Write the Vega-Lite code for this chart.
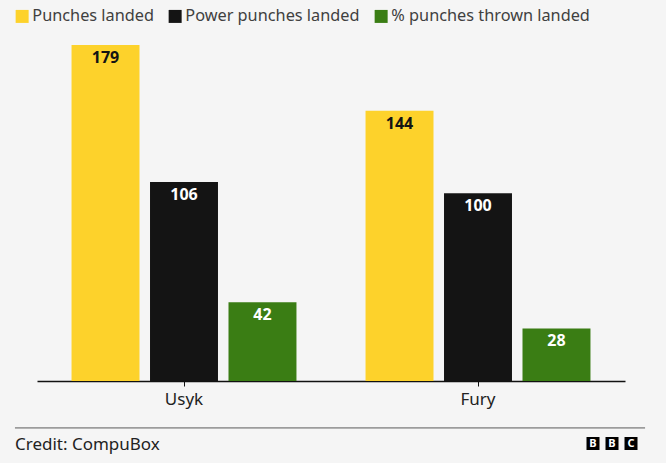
{
  "$schema": "https://vega.github.io/schema/vega-lite/v6.json",
  "width": 588,
  "height": 336,
  "padding": {"left": 14, "top": 8, "right": 20, "bottom": 10},
  "background": "#f5f5f5",
  "config": {
    "view": {"stroke": null},
    "font": "Noto Sans"
  },
  "datasets": {
    "punches": [
      {"fighter": "Usyk", "measure": "Punches landed", "value": 179},
      {"fighter": "Usyk", "measure": "Power punches landed", "value": 106},
      {"fighter": "Usyk", "measure": "% punches thrown landed", "value": 42},
      {"fighter": "Fury", "measure": "Punches landed", "value": 144},
      {"fighter": "Fury", "measure": "Power punches landed", "value": 100},
      {"fighter": "Fury", "measure": "% punches thrown landed", "value": 28}
    ],
    "credit": [
      {"label": "Credit: CompuBox", "pos": -30.42, "level": -34}
    ],
    "logo": [
      {"letter": "B", "pos": 0, "level": -33.3},
      {"letter": "B", "pos": 1, "level": -33.3},
      {"letter": "C", "pos": 2, "level": -33.3}
    ]
  },
  "resolve": {"scale": {"x": "independent", "y": "independent"}},
  "layer": [
    {
      "data": {"name": "punches"},
      "encoding": {
        "x": {
          "field": "fighter",
          "type": "nominal",
          "sort": ["Usyk", "Fury"],
          "scale": {"paddingInner": 0, "paddingOuter": 0},
          "axis": {
            "title": null,
            "labelAngle": 0,
            "domainColor": "#111111",
            "domainWidth": 1.5,
            "tickColor": "#111111",
            "tickSize": 5,
            "labelFontSize": 17,
            "labelColor": "#222222",
            "labelPadding": 5
          }
        },
        "xOffset": {
          "field": "measure",
          "type": "nominal",
          "sort": ["Punches landed", "Power punches landed", "% punches thrown landed"],
          "scale": {"paddingInner": 0.134, "paddingOuter": 0.44}
        },
        "y": {
          "field": "value",
          "type": "quantitative",
          "scale": {"domain": [0, 179], "nice": false},
          "axis": null
        }
      },
      "layer": [
        {
          "mark": {"type": "bar"},
          "encoding": {
            "color": {
              "field": "measure",
              "type": "nominal",
              "scale": {
                "domain": ["Punches landed", "Power punches landed", "% punches thrown landed"],
                "range": ["#fdd22b", "#141414", "#3a7d14"]
              },
              "legend": {
                "title": null,
                "orient": "none",
                "direction": "horizontal",
                "legendX": -23,
                "legendY": -37,
                "symbolType": "square",
                "symbolSize": 169,
                "symbolStrokeWidth": 0,
                "symbolOpacity": 1,
                "labelFontSize": 16.3,
                "labelColor": "#404040",
                "labelOffset": 2,
                "columnPadding": 13,
                "labelLimit": 300
              }
            }
          }
        },
        {
          "mark": {"type": "text", "baseline": "middle", "dy": 13, "fontWeight": "bold", "fontSize": 16},
          "encoding": {
            "text": {"field": "value", "type": "quantitative"},
            "color": {
              "condition": {"test": "datum.measure === 'Punches landed'", "value": "#141414"},
              "value": "#ffffff"
            }
          }
        }
      ]
    },
    {
      "layer": [
        {
          "data": {"values": [{}]},
          "mark": {"type": "rule", "color": "#5a5a5a", "strokeWidth": 1, "clip": false},
          "encoding": {
            "x": {"datum": -30.42, "type": "quantitative", "scale": {"domain": [-29.26, 1.684], "nice": false, "zero": false}, "axis": null},
            "x2": {"datum": 2.74},
            "y": {"datum": -25, "type": "quantitative", "scale": {"domain": [0, 179], "nice": false}, "axis": null}
          }
        },
        {
          "data": {"name": "credit"},
          "mark": {"type": "text", "align": "left", "baseline": "middle", "fontSize": 17, "color": "#222222", "clip": false},
          "encoding": {
            "x": {"field": "pos", "type": "quantitative", "scale": {"domain": [-29.26, 1.684], "nice": false, "zero": false}, "axis": null},
            "y": {"field": "level", "type": "quantitative", "scale": {"domain": [0, 179], "nice": false}, "axis": null},
            "text": {"field": "label"}
          }
        },
        {
          "data": {"name": "logo"},
          "mark": {"type": "square", "size": 169, "color": "#000000", "opacity": 1, "clip": false},
          "encoding": {
            "x": {"field": "pos", "type": "quantitative", "scale": {"domain": [-29.26, 1.684], "nice": false, "zero": false}, "axis": null},
            "y": {"field": "level", "type": "quantitative", "scale": {"domain": [0, 179], "nice": false}, "axis": null}
          }
        },
        {
          "data": {"name": "logo"},
          "mark": {"type": "text", "color": "#ffffff", "fontWeight": "bold", "fontSize": 11, "baseline": "middle", "clip": false},
          "encoding": {
            "x": {"field": "pos", "type": "quantitative", "scale": {"domain": [-29.26, 1.684], "nice": false, "zero": false}, "axis": null},
            "y": {"field": "level", "type": "quantitative", "scale": {"domain": [0, 179], "nice": false}, "axis": null},
            "text": {"field": "letter"}
          }
        }
      ]
    }
  ]
}
